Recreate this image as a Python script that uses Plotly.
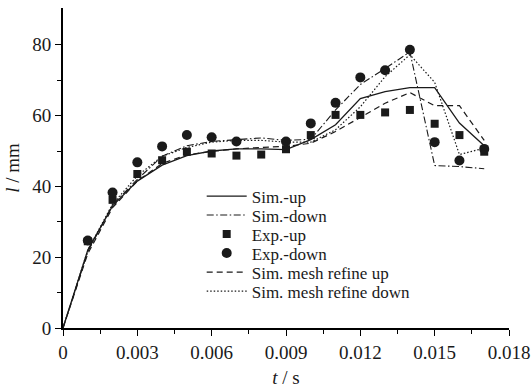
import plotly.graph_objects as go

# time samples (s)
t = [0.0, 0.001, 0.002, 0.003, 0.004, 0.005, 0.006, 0.007, 0.008, 0.009,
     0.010, 0.011, 0.012, 0.013, 0.014, 0.015, 0.016, 0.017]
t_exp = t[1:]

# simulated penetration length (mm)
sim_up = [0, 22.0, 34.5, 41.5, 46.0, 48.7, 50.0, 50.6, 50.6, 50.4,
          53.2, 57.4, 64.8, 66.8, 67.9, 67.9, 57.9, 51.5]
sim_down = [0, 21.5, 34.8, 42.0, 48.5, 51.5, 52.7, 53.3, 53.7, 53.0,
            53.3, 61.6, 68.8, 73.3, 78.0, 45.9, 45.6, 45.0]
mesh_up = [0, 21.0, 34.0, 41.5, 46.5, 48.9, 49.9, 50.6, 51.0, 51.3,
           52.2, 55.5, 59.5, 63.5, 66.5, 62.8, 62.8, 53.0]
mesh_down = [0, 22.0, 35.0, 43.0, 48.5, 51.0, 52.5, 53.0, 53.0, 52.5,
             52.5, 56.0, 62.5, 71.0, 77.2, 69.4, 49.0, 50.8]

# measured values (mm)
exp_up = [24.5, 36.2, 43.5, 47.4, 49.8, 49.3, 48.7, 49.0, 50.5,
          54.5, 60.2, 60.2, 60.9, 61.6, 57.7, 54.5, 49.8]
exp_down = [24.7, 38.3, 46.8, 51.3, 54.5, 53.9, 52.7, None, 52.7,
            57.8, 63.6, 70.8, 72.8, 78.6, 52.5, 47.3, 50.6]

x_tickvals = [0, 0.003, 0.006, 0.009, 0.012, 0.015, 0.018]
x_ticktext = ["0", "0.003", "0.006", "0.009", "0.012", "0.015", "0.018"]
y_tickvals = [0, 20, 40, 60, 80]

FONT = "'Liberation Serif', 'Times New Roman', Times, serif"
INK = "#1a1a1a"

traces = [
    dict(x=t, y=sim_up, mode="lines", name="Sim.-up",
         line=dict(color=INK, width=1.3)),
    dict(x=t, y=sim_down, mode="lines", name="Sim.-down",
         line=dict(color=INK, width=1.1, dash="7px,2.5px,1.5px,2.5px")),
    dict(x=t_exp, y=exp_up, mode="markers", name="Exp.-up",
         marker=dict(color=INK, symbol="square", size=8)),
    dict(x=t_exp, y=exp_down, mode="markers", name="Exp.-down",
         marker=dict(color=INK, symbol="circle", size=10)),
    dict(x=t, y=mesh_up, mode="lines", name="Sim. mesh refine up",
         line=dict(color=INK, width=1.2, dash="6px,4px")),
    dict(x=t, y=mesh_down, mode="lines", name="Sim. mesh refine down",
         line=dict(color=INK, width=1.2, dash="1.5px,2px")),
]

fig = go.Figure()
legend_layouts = {}
row0, row_step = 0.411, 0.0594   # legend rows in plot-area fractions
for i, tr in enumerate(traces):
    key = "legend" if i == 0 else f"legend{i + 1}"
    fig.add_trace(go.Scatter(**tr, legend=key))
    legend_layouts[key] = dict(
        x=0.311, y=row0 - i * row_step, xanchor="left", yanchor="middle",
        bgcolor="rgba(0,0,0,0)", font=dict(family=FONT, size=17, color=INK),
        itemwidth=40, borderwidth=0,
    )

fig.update_layout(
    width=531, height=388,
    margin=dict(l=63, r=22, t=8, b=60, autoexpand=False),
    paper_bgcolor="white", plot_bgcolor="white",
    font=dict(family=FONT, size=19, color=INK),
    showlegend=True,
    **legend_layouts,
)
fig.update_xaxes(
    range=[0, 0.018], tickmode="array", tickvals=x_tickvals, ticktext=x_ticktext,
    automargin=False,
    showgrid=False, zeroline=False, showline=True, linecolor="black", linewidth=2,
    ticks="outside", ticklen=6, tickwidth=1.3, tickcolor="black",
    minor=dict(tickmode="array", tickvals=[0.0015, 0.0045, 0.0075, 0.0105, 0.0135, 0.0165],
               ticks="outside", ticklen=4, tickwidth=1.2, tickcolor="black"),
    tickfont=dict(family=FONT, size=19, color=INK),
    title=dict(text="<i>t</i> / s", font=dict(family=FONT, size=19, color=INK), standoff=20),
)
fig.update_yaxes(
    range=[0, 90.4], tickmode="array", tickvals=y_tickvals,
    automargin=False,
    showgrid=False, zeroline=False, showline=True, linecolor="black", linewidth=2,
    ticks="outside", ticklen=6, tickwidth=1.3, tickcolor="black",
    minor=dict(tickmode="array", tickvals=[10, 30, 50, 70],
               ticks="outside", ticklen=4, tickwidth=1.2, tickcolor="black"),
    tickfont=dict(family=FONT, size=19, color=INK),
    title=dict(text="<i>l</i> / mm", font=dict(family=FONT, size=19, color=INK), standoff=8),
)

fig.write_html("out.html")
